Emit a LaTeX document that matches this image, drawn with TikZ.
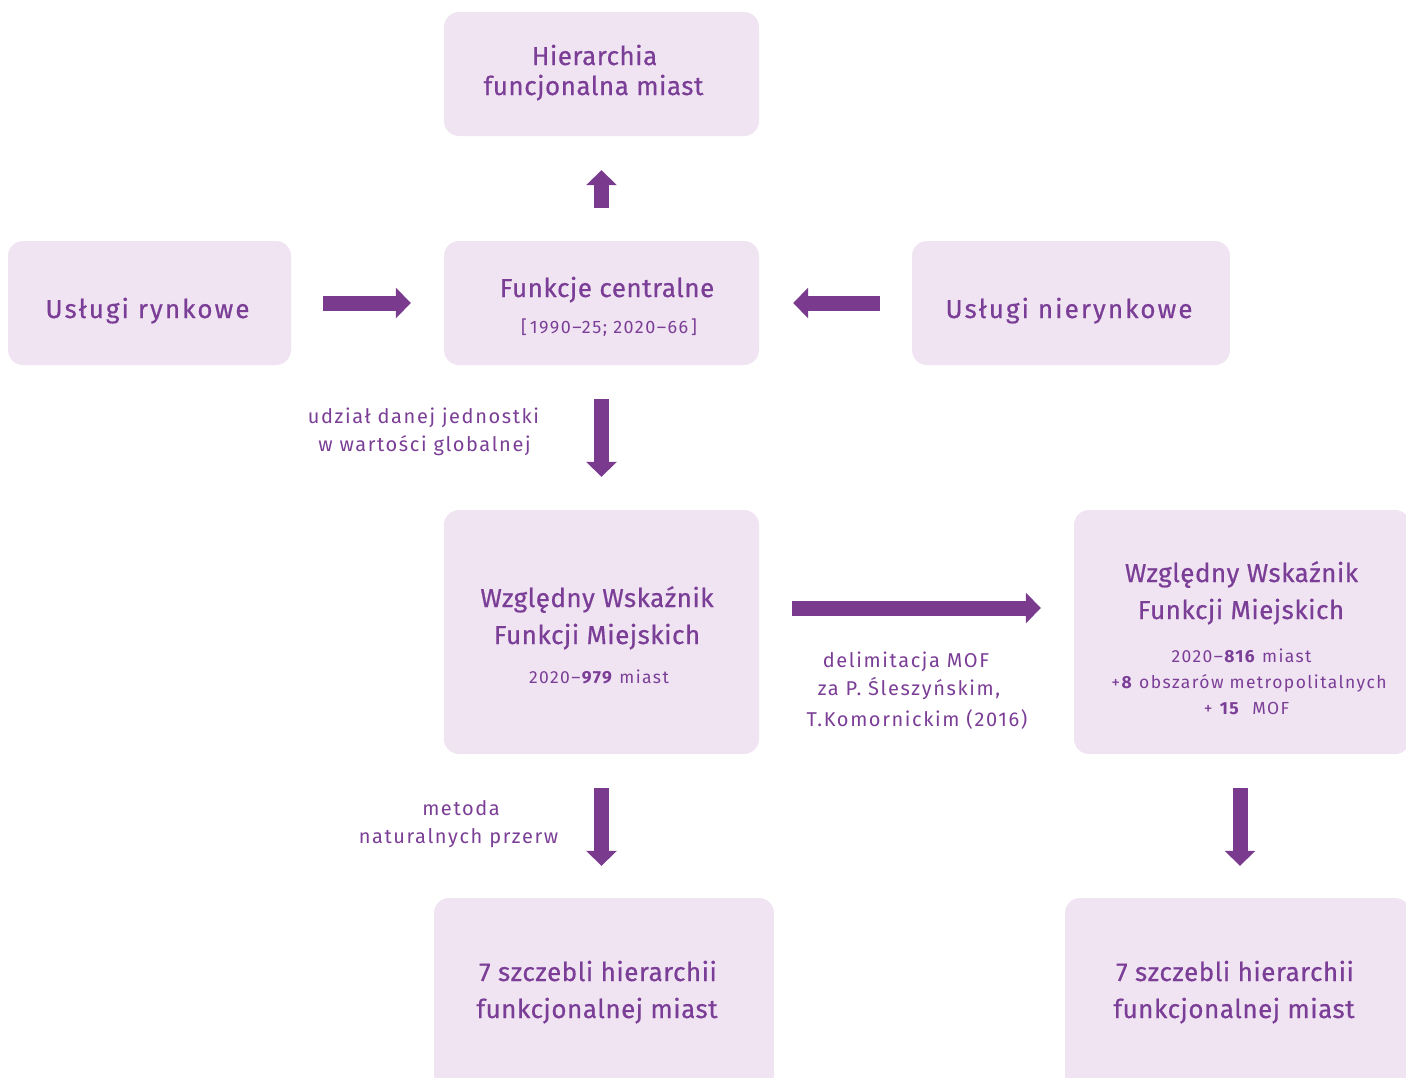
\documentclass[tikz,border=0pt]{standalone}
\usepackage{fontspec}
\setmainfont{Fira Sans}
\newfontfamily\tfont{Fira Sans}[LetterSpace=2,FakeBold=0.6]
\newfontfamily\wfont{Fira Sans}[LetterSpace=8,FakeBold=0.6]
\newfontfamily\lfont{Fira Sans}[LetterSpace=8]
\usetikzlibrary{arrows.meta}
\definecolor{boxfill}{RGB}{240,228,243}
\definecolor{txt}{RGB}{123,62,150}
\definecolor{arr}{RGB}{122,59,143}
\tikzset{
  box/.style={draw=none, fill=boxfill, rounded corners=15pt, inner sep=0pt},
  ttl/.style={anchor=base, text=txt, inner sep=0pt, font=\tfont\fontsize{26}{30}\selectfont},
  wttl/.style={anchor=base, text=txt, inner sep=0pt, font=\wfont\fontsize{26}{30}\selectfont},
  sub/.style={anchor=base, text=txt, inner sep=0pt, font=\lfont\fontsize{17.5}{20}\selectfont},
  lbl/.style={anchor=base, text=txt, inner sep=0pt, font=\lfont\fontsize{20}{24}\selectfont},
  blockarrow/.style={draw=arr, line width=15pt, -{Triangle[width=30pt,length=15pt]}}
}
\begin{document}
\begin{tikzpicture}[x=1pt,y=-1pt]
\clip (0,0) rectangle (1406,1077);
% boxes
\node[box, minimum width=315pt, minimum height=124pt] (hier) at (601.5,74) {};
\node[box, minimum width=283pt, minimum height=124pt] (ryn) at (149.5,303) {};
\node[box, minimum width=315pt, minimum height=124pt] (fc) at (601.5,303) {};
\node[box, minimum width=318pt, minimum height=124pt] (nry) at (1071,303) {};
\node[box, minimum width=315pt, minimum height=244pt] (w1) at (601.5,632) {};
\node[box, minimum width=336pt, minimum height=244pt] (w2) at (1242,632) {};
\node[box, minimum width=340pt, minimum height=192pt] (s1) at (604,994) {};
\node[box, minimum width=345pt, minimum height=192pt] (s2) at (1237.5,994) {};
% texts
\node[ttl] (th1) at (594.5,65) {Hierarchia};
\node[ttl] (th2) at (593.5,95) {funcjonalna miast};
\node[wttl] (tr) at (147.5,318) {Usługi rynkowe};
\node[ttl] (tf1) at (607,297) {Funkcje centralne};
\node[sub, font=\lfont\fontsize{18}{20}\selectfont] (tf2) at (609,333) {[\,1990–25; 2020–66\,]};
\node[wttl] (tn) at (1069,318) {Usługi nierynkowe};
\node[lbl] (tu1) at (423.5,423) {udział danej jednostki};
\node[lbl] (tu2) at (424.5,451) {w wartości globalnej};
\node[ttl] (tw1) at (597,607) {Względny Wskaźnik};
\node[ttl] (tw2) at (597,644) {Funkcji Miejskich};
\node[sub] (tw3) at (599,683) {2020–\textbf{979} miast};
\node[lbl] (td1) at (906,667) {delimitacja MOF};
\node[lbl] (td2) at (909,695) {za P. Śleszyńskim,};
\node[lbl] (td3) at (917,726) {T.Komornickim (2016)};
\node[ttl] (tv1) at (1241.5,582) {Względny Wskaźnik};
\node[ttl] (tv2) at (1241,619) {Funkcji Miejskich};
\node[sub] (tv3) at (1241.5,662) {2020–\textbf{816} miast};
\node[sub] (tv4) at (1249,688) {+\textbf{8} obszarów metropolitalnych};
\node[sub] (tv5) at (1246.5,714) {+ \textbf{15}~ MOF};
\node[lbl] (tm1) at (461,815) {metoda};
\node[lbl] (tm2) at (458.5,843) {naturalnych przerw};
\node[ttl] (ts1) at (598,981) {7 szczebli hierarchii};
\node[ttl] (ts2) at (597,1018) {funkcjonalnej miast};
\node[ttl] (tt1) at (1235,981) {7 szczebli hierarchii};
\node[ttl] (tt2) at (1234,1018) {funkcjonalnej miast};
% arrows
\coordinate (hy) at (0,608);
\coordinate (rx) at (1240,0);
\draw[blockarrow, shorten <=33pt, shorten >=34pt] (fc.north) -- (hier.south);
\draw[blockarrow, shorten <=32pt, shorten >=33pt] (ryn.east) -- (fc.west);
\draw[blockarrow, shorten <=32pt, shorten >=34pt] (nry.west) -- (fc.east);
\draw[blockarrow, shorten <=34pt, shorten >=33pt] (fc.south) -- (w1.north);
\draw[blockarrow, shorten <=33pt, shorten >=33pt] (w1.east |- hy) -- (w2.west |- hy);
\draw[blockarrow, shorten <=34pt, shorten >=32pt] (w1.south) -- (s1.north -| w1.south);
\draw[blockarrow, shorten <=34pt, shorten >=32pt] (w2.south -| rx) -- (s2.north -| rx);
\end{tikzpicture}
\end{document}
